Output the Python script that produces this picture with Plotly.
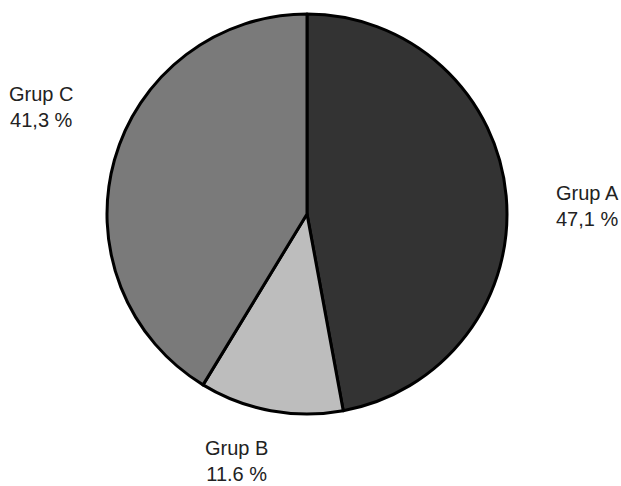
import plotly.graph_objects as go

# Group shares (percent) and how each label prints its value
groups = ["Grup A", "Grup B", "Grup C"]
shares = [47.1, 11.6, 41.3]
share_text = ["47,1 %", "11.6 %", "41,3 %"]
colors = ["#333333", "#bdbdbd", "#7a7a7a"]

# Label anchor points in paper coordinates
label_x = [587 / 621, 236 / 621, 41 / 621]
label_y = [1 - 206 / 486, 1 - 461 / 486, 1 - 107 / 486]

W, H = 621, 486
cx, cy, r = 307, 214, 200

fig = go.Figure(
    go.Pie(
        labels=groups,
        values=shares,
        sort=False,
        direction="clockwise",
        rotation=0,
        marker=dict(colors=colors, line=dict(color="#000000", width=3)),
        textinfo="none",
        hoverinfo="label+percent",
        showlegend=False,
        domain=dict(x=[(cx - r) / W, (cx + r) / W], y=[1 - (cy + r) / H, 1 - (cy - r) / H]),
    )
)

for g, t, x, y in zip(groups, share_text, label_x, label_y):
    fig.add_annotation(
        x=x, y=y, xref="paper", yref="paper",
        text=f"{g}<br>{t}", showarrow=False,
        font=dict(family="Liberation Sans, Arial, sans-serif", size=20, color="#222222"),
        align="center", xanchor="center", yanchor="middle",
    )

fig.update_layout(
    width=W, height=H,
    margin=dict(l=0, r=0, t=0, b=0),
    paper_bgcolor="#ffffff",
    plot_bgcolor="#ffffff",
)

fig.write_html("out.html")
